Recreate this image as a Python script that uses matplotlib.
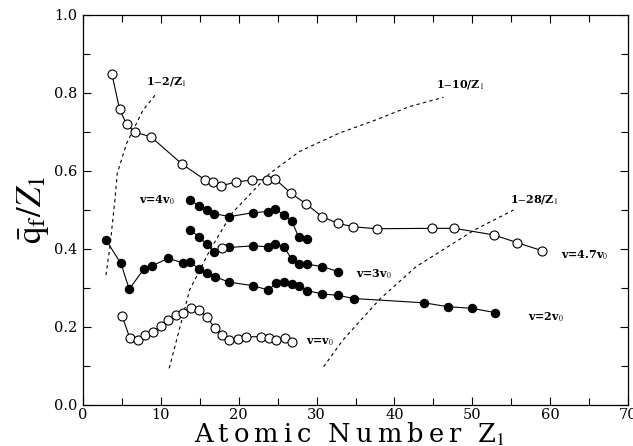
import matplotlib as mpl
mpl.use('Agg')
import matplotlib.pyplot as plt
import numpy as np

# v = 4.7 v0 (open circles)
z_47 = [3.7, 4.7, 5.6, 6.7, 8.7, 12.7, 15.7, 16.7, 17.7, 19.7, 21.7, 23.6, 24.7,
        26.7, 28.7, 30.7, 32.7, 34.7, 37.7, 44.8, 47.7, 52.8, 55.8, 58.9]
q_47 = [0.850, 0.758, 0.720, 0.699, 0.688, 0.618, 0.577, 0.572, 0.562, 0.572, 0.577, 0.578, 0.579,
        0.543, 0.515, 0.483, 0.466, 0.457, 0.452, 0.453, 0.453, 0.436, 0.416, 0.396]

# v = 4 v0 (filled)
z_4 = [13.8, 14.9, 15.9, 16.8, 18.8, 21.8, 23.7, 24.7, 25.8, 26.8, 27.7, 28.8]
q_4 = [0.526, 0.510, 0.500, 0.491, 0.483, 0.493, 0.496, 0.503, 0.487, 0.473, 0.430, 0.425]

# v = 3 v0 (filled, one open point at index 4)
z_3 = [13.8, 14.9, 15.9, 16.8, 17.8, 18.8, 21.8, 23.7, 24.7, 25.8, 26.8, 27.8, 28.8, 30.7, 32.8]
q_3 = [0.450, 0.430, 0.413, 0.393, 0.402, 0.404, 0.408, 0.406, 0.413, 0.406, 0.374, 0.361, 0.361, 0.355, 0.342]
open_3 = 4

# v = 2 v0 (filled)
z_2 = [2.95, 4.87, 5.94, 7.86, 8.9, 10.9, 12.8, 13.8, 14.9, 15.9, 16.9, 18.8, 21.8, 23.8,
       24.8, 25.8, 26.8, 27.8, 28.8, 30.7, 32.8, 34.8, 43.8, 46.9, 49.9, 52.9]
q_2 = [0.423, 0.363, 0.297, 0.350, 0.357, 0.376, 0.365, 0.367, 0.348, 0.339, 0.329, 0.315, 0.306, 0.295,
       0.312, 0.316, 0.310, 0.305, 0.293, 0.285, 0.281, 0.273, 0.262, 0.252, 0.248, 0.237]

# v = v0 (open circles)
z_1 = [5.0, 6.0, 7.0, 8.0, 9.0, 10.0, 10.9, 11.9, 12.9, 13.9, 14.9, 15.9, 16.9, 17.9, 18.8,
       19.9, 20.9, 22.9, 23.9, 24.8, 25.9, 26.9]
q_1 = [0.229, 0.173, 0.167, 0.179, 0.188, 0.203, 0.218, 0.231, 0.237, 0.248, 0.244, 0.226, 0.198, 0.179, 0.167,
       0.168, 0.175, 0.175, 0.171, 0.167, 0.171, 0.162]

# dashed reference curves
z_d2 = [2.95, 3.46, 4.1, 4.4, 5.6, 7.7, 9.45]
q_d2 = [0.333, 0.406, 0.526, 0.594, 0.671, 0.756, 0.799]
z_d10 = [11.07, 13.7, 16.3, 19.1, 24.0, 27.8, 32.9, 37.6, 41.9, 46.3]
q_d10 = [0.094, 0.295, 0.397, 0.491, 0.594, 0.650, 0.697, 0.731, 0.765, 0.789]
z_d28 = [30.9, 33.4, 38.1, 42.8, 50.3, 55.3]
q_d28 = [0.098, 0.167, 0.271, 0.355, 0.449, 0.500]

plt.rcParams['font.family'] = 'DejaVu Serif'
plt.rcParams['mathtext.fontset'] = 'stix'

fig = plt.figure(figsize=(6.33, 4.46), dpi=100)
ax = fig.add_axes([83/633, 1 - 405/446, 545/633, 390/446])

lw = 0.8
for zs, qs in [(z_d2, q_d2), (z_d10, q_d10), (z_d28, q_d28)]:
    ax.plot(zs, qs, color='black', lw=0.8, ls=(0, (3, 3)))

ax.plot(z_47, q_47, '-o', color='black', lw=lw, ms=6.5, mfc='white', mew=0.8)
ax.plot(z_4, q_4, '-o', color='black', lw=lw, ms=5.8)
ax.plot(z_3, q_3, '-', color='black', lw=lw)
filled = [i for i in range(len(z_3)) if i != open_3]
ax.plot([z_3[i] for i in filled], [q_3[i] for i in filled], 'o', color='black', ms=5.8)
ax.plot([z_3[open_3]], [q_3[open_3]], 'o', color='black', ms=6.5, mfc='white', mew=0.8)
ax.plot(z_2, q_2, '-o', color='black', lw=lw, ms=5.8)
ax.plot(z_1, q_1, '-o', color='black', lw=lw, ms=6.5, mfc='white', mew=0.8)

fs = 8
kw = dict(fontsize=fs, fontweight='bold', va='center', ha='left')
ax.text(8.1, 0.83, r'1$-$2/Z$_1$', **kw)
ax.text(45.4, 0.823, r'1$-$10/Z$_1$', **kw)
ax.text(54.8, 0.527, r'1$-$28/Z$_1$', **kw)
ax.text(7.2, 0.524, r'v=4v$_0$', **kw)
ax.text(35.0, 0.336, r'v=3v$_0$', **kw)
ax.text(57.2, 0.224, r'v=2v$_0$', **kw)
ax.text(28.6, 0.162, r'v=v$_0$', **kw)
ax.text(61.4, 0.385, r'v=4.7v$_0$', **kw)

ax.set_xlim(0, 70)
ax.set_ylim(0, 1.0)
ax.set_xticks(np.arange(0, 71, 10))
ax.set_xticks(np.arange(5, 70, 5), minor=True)
ax.set_yticks(np.arange(0, 1.01, 0.2))
ax.set_yticks(np.arange(0.1, 1.0, 0.2), minor=True)
ax.yaxis.set_major_formatter(mpl.ticker.FormatStrFormatter('%.1f'))
ax.tick_params(which='both', direction='in', top=True, right=True, labelsize=10.5,
               width=0.8, pad=4)
ax.tick_params(axis='x', which='major', pad=2)
ax.tick_params(which='major', length=6)
ax.tick_params(which='minor', length=5)
for s in ax.spines.values():
    s.set_linewidth(0.9)

ts = '\u2009'
xlab = ts.join('Atomic') + '  ' + ts.join('Number') + '  Z$_1$'
ax.set_xlabel(xlab, fontsize=18.5)
ax.xaxis.label.set_va('baseline')
ax.xaxis.set_label_coords(0.488, -0.0965)
ax.set_ylabel(r'$\bar{\mathrm{q}}_{\mathrm{f}}/Z_1$', fontsize=25, labelpad=2)

plt.savefig('out.png', dpi=100)
